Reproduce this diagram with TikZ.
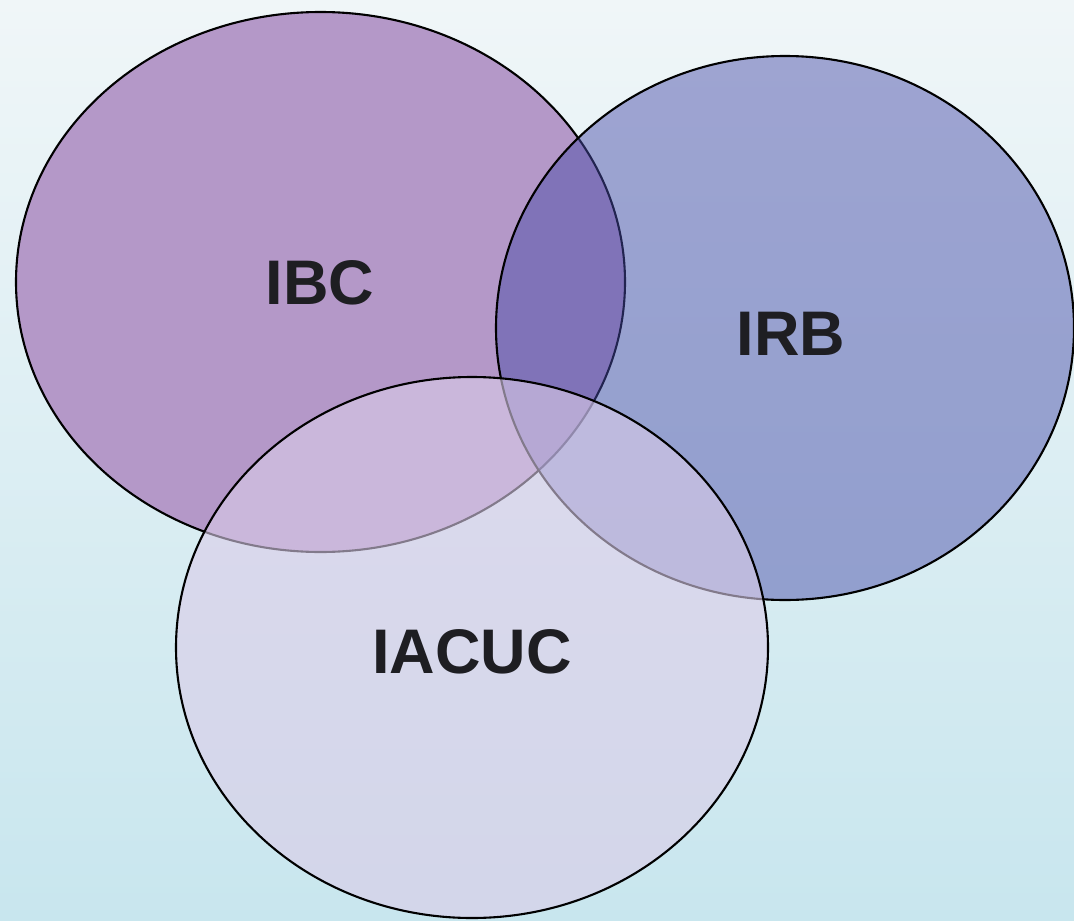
\documentclass[tikz,border=0pt]{standalone}
\usepackage{fontspec}
\setmainfont{Liberation Sans}
\definecolor{bgtop}{RGB}{240,246,248}
\definecolor{bgbot}{RGB}{200,230,238}
\definecolor{ibcfill}{RGB}{180,152,200}
\definecolor{irbfill}{RGB}{72,76,168}
\definecolor{iacfill}{RGB}{218,204,232}
\definecolor{labcol}{RGB}{30,30,34}
\tikzset{
  circ/.style={draw=black, line width=2.1pt},
  lab/.style={font=\bfseries\fontsize{63}{63}\selectfont, text=labcol, inner sep=0pt}
}
\begin{document}
\begin{tikzpicture}[x=1pt,y=-1pt]
\shade[top color=bgtop, bottom color=bgbot] (0,0) rectangle (1074,921);
\useasboundingbox (0,0) rectangle (1074,921);
\path[circ, fill=ibcfill] (320.5,282) ellipse [x radius=304.5, y radius=270];
\path[circ, fill=irbfill, fill opacity=0.48] (785,328) ellipse [x radius=289, y radius=272];
\path[circ, fill=iacfill, fill opacity=0.6] (472,647.5) ellipse [x radius=296, y radius=270.5];
\node[lab] (ibc) at (320,283) {IBC};
\node[lab] (irb) at (791,334) {IRB};
\node[lab] (iacuc) at (472,652) {IACUC};
\end{tikzpicture}
\end{document}
